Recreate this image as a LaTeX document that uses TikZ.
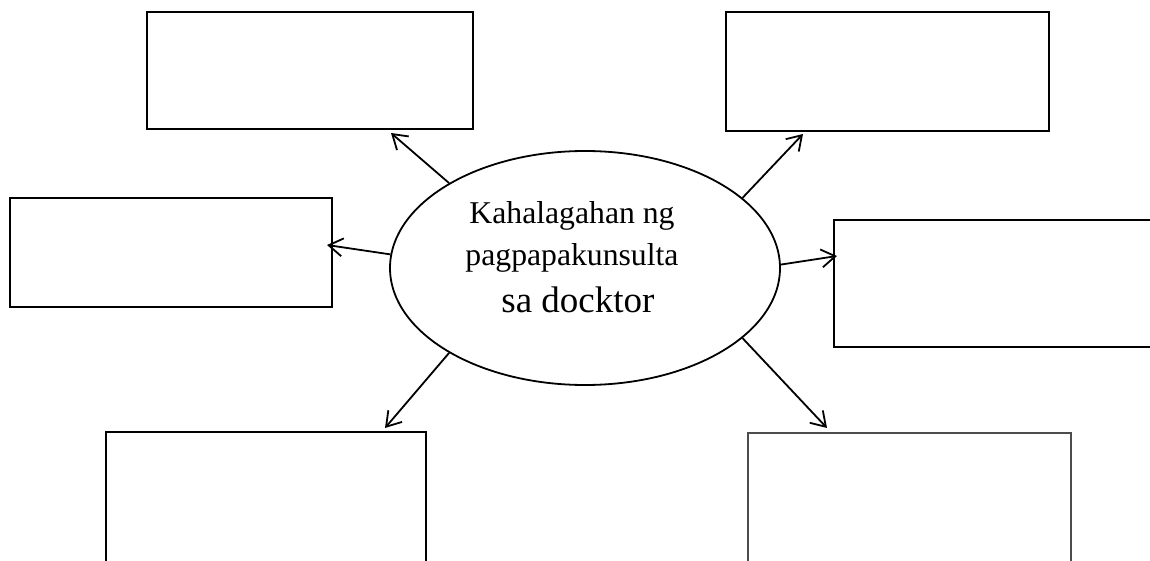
\documentclass[tikz,border=0pt]{standalone}
\usepackage{fontspec}
\setmainfont{Liberation Serif}
\usetikzlibrary{shapes.geometric,arrows.meta}
\tikzset{
    kahon/.style={draw, line width=2.2pt, inner sep=0pt},
    palaso/.style={line width=1.8pt, -{Straight Barb[length=14pt,width=18pt]}}
}
\begin{document}
\begin{tikzpicture}[x=1pt, y=-1pt]
            \clip (0,0) rectangle (1150,561);
            \fill[white] (0,0) rectangle (1150,561);
            \node[kahon, minimum width=326pt, minimum height=117pt] (tl) at (310,70.5) {};
            \node[kahon, minimum width=323pt, minimum height=119pt] (tr) at (887.5,71.5) {};
            \node[kahon, minimum width=322pt, minimum height=109pt] (ml) at (171,252.5) {};
            \node[kahon, minimum width=331pt, minimum height=127pt] (mr) at (999.5,283.5) {};
            \node[kahon, minimum width=320pt, minimum height=143pt] (bl) at (266,503.5) {};
            \node[kahon, draw=black!70, line width=2.8pt, minimum width=323pt, minimum height=142pt] (br) at (909.5,504) {};
            \node[draw, ellipse, line width=1.8pt, inner sep=0pt, minimum width=390pt, minimum height=234pt] (ell) at (585,268) {};
            \node[align=center, font=\fontsize{31.7}{42}\selectfont, inner sep=0pt] (lbl) at (572,256.7) {Kahalagahan ng\\ pagpapakunsulta\\[5pt] \hspace*{12pt}{\fontsize{37}{42}\selectfont sa docktor}};
            \coordinate (ptl) at (391,133);
            \coordinate (ptr) at (803,134);
            \coordinate (pml) at (327,245);
            \coordinate (pmr) at (837,256);
            \coordinate (pbl) at (385,428);
            \coordinate (pbr) at (827,428);
            \draw[palaso] (ell.148) -- (ptl);
            \draw[palaso] (ell.24.5) -- (ptr);
            \draw[palaso] (ell.176.2) -- (pml);
            \draw[palaso] (ell.1.2) -- (pmr);
            \draw[palaso] (ell.-148.3) -- (pbl);
            \draw[palaso] (ell.-24.6) -- (pbr);
        \end{tikzpicture}
\end{document}
